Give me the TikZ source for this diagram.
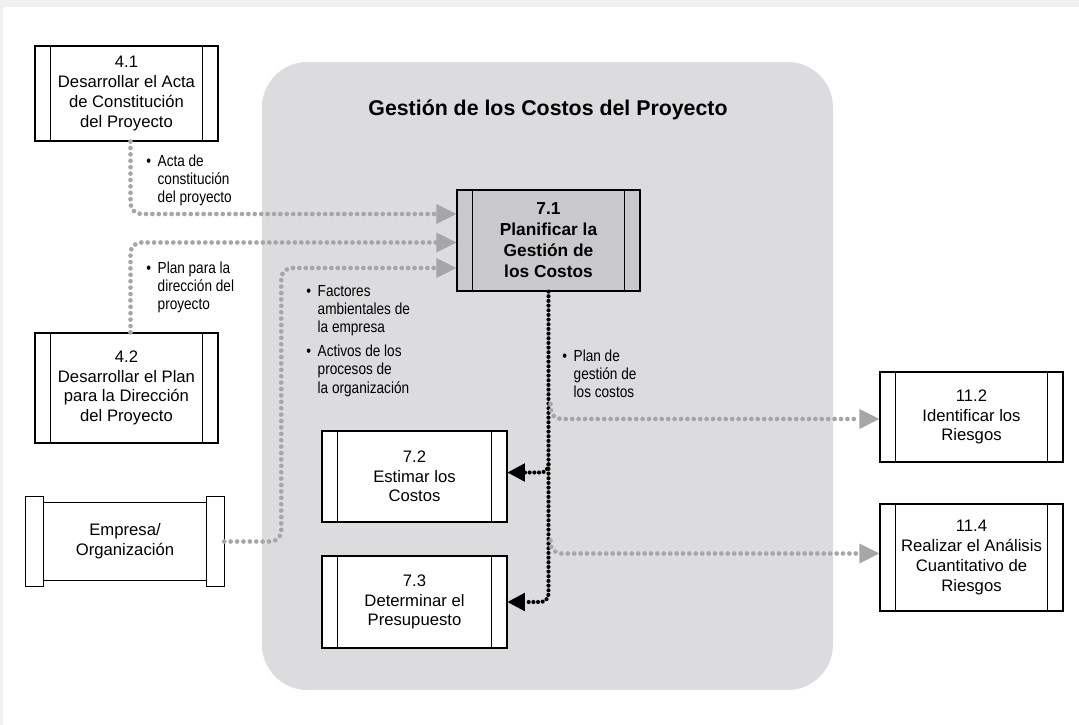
\documentclass[tikz,border=0pt]{standalone}
\usepackage{fontspec}
\setmainfont{Liberation Sans}
\newfontfamily\narrowsans[FakeStretch=0.85]{Liberation Sans}
\usetikzlibrary{arrows.meta,calc}
\definecolor{panelgray}{RGB}{220,220,222}
\definecolor{boxgray}{RGB}{201,201,203}
\definecolor{flowgray}{RGB}{166,166,168}
\definecolor{edgegray}{RGB}{240,240,240}

\tikzset{
  proc/.style={draw, line width=0.9pt, fill=white, minimum width=137.25pt,
    inner sep=0pt, align=center, font=\fontsize{12.5}{14.8}\selectfont,
    path picture={
      \draw[line width=0.9pt]
        ([xshift=11.5pt]path picture bounding box.north west) -- ([xshift=11.5pt]path picture bounding box.south west)
        ([xshift=-11.5pt]path picture bounding box.north east) -- ([xshift=-11.5pt]path picture bounding box.south east);}},
  note/.style={inner sep=0pt, anchor=base west, font=\narrowsans\fontsize{12}{13.8}\selectfont},
  grayflow/.style={draw=flowgray, line width=3.5pt, line cap=round, dash pattern=on 0pt off 4.8pt,
    rounded corners=8pt, -{Triangle[length=15pt,width=15pt,line width=0pt]}},
  blackflow/.style={draw=black, line width=3.1pt, line cap=round, dash pattern=on 0pt off 3.5pt,
    rounded corners=6pt, -{Triangle[length=13pt,width=14pt,line width=0pt]}}
}

\begin{document}
\begin{tikzpicture}[x=0.75pt,y=-0.75pt]
  \useasboundingbox (0,0) rectangle (1079,725);
  \fill[edgegray] (0,0) rectangle (1079,7);
  \fill[edgegray] (0,0) rectangle (3,725);

  % grupo de procesos
  \fill[panelgray, rounded corners=34pt] (262,62) rectangle (833,690);
  \node[font=\bfseries\fontsize{16}{19}\selectfont] (title) at (548,110) {Gestión de los Costos del Proyecto};

  % procesos
  \node[proc, minimum height=71.25pt] (p41) at (126.5,93.5) {4.1\\Desarrollar el Acta\\de Constitución\\del Proyecto};
  \node[proc, minimum height=82.5pt] (p42) at (126.5,388) {4.2\\Desarrollar el Plan\\para la Dirección\\del Proyecto};
  \node[proc, fill=boxgray, minimum height=75.75pt, font=\bfseries\fontsize{13}{15.75}\selectfont] (p71) at (548.5,240.5) {7.1\\Planificar la\\Gestión de\\los Costos};
  \node[proc, minimum width=138.75pt, minimum height=68.25pt] (p72) at (414.5,476.5) {7.2\\Estimar los\\Costos};
  \node[proc, minimum width=138.75pt, minimum height=69pt] (p73) at (414.5,602) {7.3\\Determinar el\\Presupuesto};
  \node[proc, minimum height=67.5pt] (p112) at (971.5,417) {11.2\\Identificar los\\Riesgos};
  \node[proc, minimum height=80.25pt] (p114) at (971.5,557.5) {11.4\\Realizar el Análisis\\Cuantitativo de\\Riesgos};

  % entidad externa
  \node[minimum width=148.5pt, minimum height=66.75pt, align=center, inner sep=0pt,
    font=\fontsize{12.5}{14.8}\selectfont] (ent) at (125,541.5) {Empresa/\\Organización};
  \begin{scope}[line width=0.9pt]
    \draw (ent.north west) rectangle ([xshift=13.5pt]ent.south west);
    \draw (ent.north east) rectangle ([xshift=-13.5pt]ent.south east);
    \draw ([xshift=13.5pt,yshift=-4.5pt]ent.north west) -- ([xshift=-13.5pt,yshift=-4.5pt]ent.north east);
    \draw ([xshift=13.5pt,yshift=4.5pt]ent.south west) -- ([xshift=-13.5pt,yshift=4.5pt]ent.south east);
  \end{scope}

  % entradas
  \coordinate (in1) at ($(p71.west)+(0,-26.5)$);
  \coordinate (in2) at ($(p71.west)+(0,2)$);
  \coordinate (in3) at ($(p71.west)+(0,27.5)$);
  \draw[grayflow] ($(p41.south)+(4,0)$) |- (in1);
  \draw[grayflow] ($(p42.north)+(4,0)$) |- (in2);
  \draw[grayflow] (ent.east) -- ++(57,0) |- (in3);

  % salidas
  \draw[blackflow] (p71.south) |- (p73.east);
  \draw[blackflow] ($(p71.south|-p72.east)+(0,-12)$) |- ($(p72.east)+(0,-4)$);
  \draw[grayflow] ($(p71.south|-p112.west)+(2,-13)$) |- ($(p112.west)+(0,2)$);
  \draw[grayflow] ($(p71.south|-p114.west)+(2,-17)$) |- ($(p114.west)+(0,-4)$);

  % notas
  \node[note] (n1) at (146,166) {\begin{tabular}[t]{@{}l@{\hspace{5pt}}l@{}}\textbullet & Acta de\\ & constitución\\ & del proyecto\end{tabular}};
  \node[note] (n2) at (146,273) {\begin{tabular}[t]{@{}l@{\hspace{5pt}}l@{}}\textbullet & Plan para la\\ & dirección del\\ & proyecto\end{tabular}};
  \node[note] (n3) at (306,296) {\begin{tabular}[t]{@{}l@{\hspace{5pt}}l@{}}\textbullet & Factores\\ & ambientales de\\ & la empresa\\[4pt] \textbullet & Activos de los\\ & procesos de\\ & la organización\end{tabular}};
  \node[note] (n4) at (562,361) {\begin{tabular}[t]{@{}l@{\hspace{5pt}}l@{}}\textbullet & Plan de\\ & gestión de\\ & los costos\end{tabular}};
\end{tikzpicture}
\end{document}
